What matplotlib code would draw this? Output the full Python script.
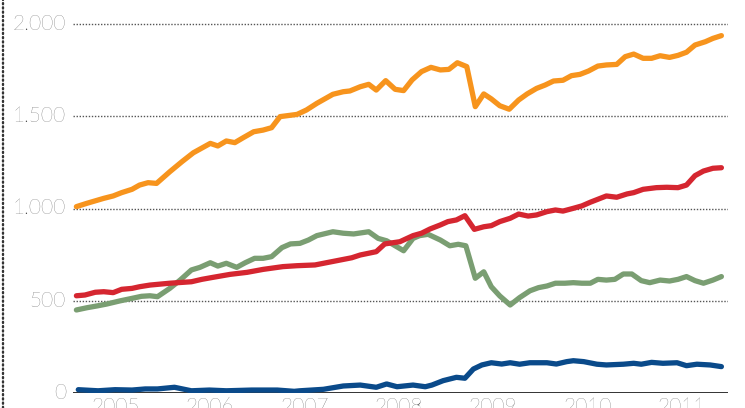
import matplotlib.pyplot as plt
from matplotlib.lines import Line2D

# decimal years / values
orange_t = [2004.58, 2004.69, 2004.87, 2004.97, 2005.06, 2005.17, 2005.25, 2005.34, 2005.43, 2005.57,
            2005.70, 2005.82, 2006.00, 2006.08, 2006.17, 2006.26, 2006.35, 2006.46, 2006.56, 2006.65,
            2006.74, 2006.92, 2007.02, 2007.13, 2007.30, 2007.41, 2007.48, 2007.59, 2007.68, 2007.76,
            2007.86, 2007.96, 2008.05, 2008.14, 2008.24, 2008.34, 2008.44, 2008.53, 2008.62, 2008.72,
            2008.81, 2008.90, 2008.98, 2009.07, 2009.17, 2009.27, 2009.36, 2009.46, 2009.55, 2009.64,
            2009.74, 2009.83, 2009.92, 2010.01, 2010.11, 2010.20, 2010.31, 2010.40, 2010.49, 2010.59,
            2010.68, 2010.77, 2010.87, 2010.96, 2011.05, 2011.14, 2011.25, 2011.33, 2011.42]
orange_v = [1010, 1028, 1055, 1068, 1086, 1104, 1127, 1140, 1136, 1199,
            1254, 1302, 1353, 1339, 1366, 1357, 1384, 1416, 1425, 1438,
            1498, 1510, 1534, 1570, 1619, 1633, 1637, 1660, 1673, 1642,
            1693, 1646, 1639, 1697, 1742, 1765, 1751, 1754, 1790, 1769,
            1552, 1621, 1594, 1557, 1538, 1588, 1621, 1651, 1669, 1691,
            1695, 1720, 1727, 1745, 1772, 1778, 1781, 1823, 1837, 1814,
            1814, 1828, 1819, 1830, 1847, 1886, 1904, 1922, 1937]

red_t = [2004.58, 2004.67, 2004.78, 2004.87, 2004.97, 2005.06, 2005.17, 2005.25, 2005.36, 2005.57,
         2005.80, 2005.91, 2006.03, 2006.21, 2006.39, 2006.56, 2006.77, 2006.92, 2007.11, 2007.20,
         2007.34, 2007.50, 2007.59, 2007.76, 2007.85, 2008.01, 2008.15, 2008.24, 2008.33, 2008.44,
         2008.52, 2008.61, 2008.70, 2008.80, 2008.90, 2008.98, 2009.07, 2009.18, 2009.27, 2009.37,
         2009.46, 2009.57, 2009.66, 2009.74, 2009.85, 2009.94, 2010.03, 2010.11, 2010.20, 2010.31,
         2010.42, 2010.49, 2010.59, 2010.73, 2010.84, 2010.96, 2011.05, 2011.14, 2011.23, 2011.33,
         2011.42]
red_v = [527, 531, 546, 549, 544, 562, 567, 576, 585, 595,
         603, 616, 627, 643, 654, 670, 685, 690, 694, 703,
         717, 733, 748, 766, 808, 820, 853, 866, 889, 911,
         929, 938, 961, 887, 901, 907, 929, 947, 970, 959,
         965, 983, 992, 986, 1001, 1014, 1034, 1050, 1068, 1061,
         1079, 1086, 1104, 1113, 1115, 1113, 1127, 1178, 1203, 1218,
         1221]

green_t = [2004.58, 2004.69, 2004.80, 2004.90, 2005.04, 2005.17, 2005.27, 2005.36, 2005.44, 2005.57,
           2005.68, 2005.80, 2005.89, 2006.00, 2006.08, 2006.17, 2006.28, 2006.37, 2006.47, 2006.56,
           2006.65, 2006.76, 2006.85, 2006.95, 2007.04, 2007.13, 2007.30, 2007.41, 2007.52, 2007.68,
           2007.78, 2007.87, 2008.05, 2008.15, 2008.22, 2008.31, 2008.44, 2008.54, 2008.63, 2008.71,
           2008.81, 2008.90, 2008.98, 2009.07, 2009.18, 2009.28, 2009.39, 2009.48, 2009.57, 2009.66,
           2009.76, 2009.85, 2009.94, 2010.03, 2010.11, 2010.20, 2010.29, 2010.38, 2010.47, 2010.57,
           2010.66, 2010.77, 2010.87, 2010.96, 2011.05, 2011.14, 2011.23, 2011.33, 2011.42]
green_v = [450, 462, 472, 482, 499, 513, 524, 527, 522, 567,
           612, 667, 681, 706, 688, 703, 681, 706, 730, 730,
           739, 788, 808, 811, 829, 853, 874, 866, 862, 874,
           838, 825, 771, 838, 853, 860, 829, 798, 806, 798,
           622, 657, 576, 526, 477, 517, 554, 571, 580, 595,
           595, 598, 595, 595, 616, 612, 616, 645, 645, 609,
           598, 612, 607, 616, 631, 609, 595, 612, 631]

blue_t = [2004.60, 2004.81, 2004.99, 2005.17, 2005.31, 2005.44, 2005.62, 2005.80, 2005.99, 2006.17,
          2006.44, 2006.71, 2006.89, 2006.95, 2007.20, 2007.41, 2007.59, 2007.76, 2007.87, 2007.98,
          2008.15, 2008.28, 2008.35, 2008.47, 2008.61, 2008.70, 2008.79, 2008.88, 2008.98, 2009.09,
          2009.18, 2009.28, 2009.39, 2009.57, 2009.67, 2009.78, 2009.85, 2009.96, 2010.10, 2010.20,
          2010.38, 2010.49, 2010.57, 2010.68, 2010.80, 2010.95, 2011.05, 2011.16, 2011.30, 2011.42]
blue_v = [18, 12, 18, 16, 22, 22, 31, 12, 16, 12,
          16, 16, 9, 12, 20, 38, 43, 31, 49, 34,
          43, 34, 43, 67, 85, 80, 130, 152, 164, 157,
          164, 156, 164, 164, 157, 170, 175, 170, 156, 152,
          156, 161, 156, 166, 161, 164, 148, 156, 152, 143]

y_ticks = [0, 500, 1000, 1500, 2000]
y_tick_labels = ["0", "500", "1.000", "1.500", "2.000"]
years = [2005, 2006, 2007, 2008, 2009, 2010, 2011]

ORANGE = "#f7941d"
RED = "#d52630"
GREEN = "#7a9e72"
BLUE = "#0a4a8a"
TXT = "#3c3c3c"

plt.rcParams["font.family"] = ["Lato", "DejaVu Sans"]

W, H = 745, 408
fig = plt.figure(figsize=(W / 100, H / 100), dpi=100)
fig.patch.set_facecolor("white")

# axes spans pixel x 73..728, y 0..393
ax = fig.add_axes([73 / W, (H - 393) / H, (728 - 73) / W, 393 / H])
ax.set_xlim(2004.544, 2011.49)
ax.set_ylim(0, 393 * 2000 / 369)
ax.axis("off")

for v in y_ticks[1:]:
    ax.axhline(v, color="#555555", lw=1.0, ls=(0, (1, 1.2)), zorder=1)
ax.axhline(0, color="#333333", lw=1.4, zorder=1)

lw = 3.8
ax.plot(green_t, green_v, color=GREEN, lw=lw, solid_capstyle="round", solid_joinstyle="round", zorder=3)
ax.plot(red_t, red_v, color=RED, lw=lw, solid_capstyle="round", solid_joinstyle="round", zorder=4)
ax.plot(orange_t, orange_v, color=ORANGE, lw=lw, solid_capstyle="round", solid_joinstyle="round", zorder=4)
ax.plot(blue_t, blue_v, color=BLUE, lw=lw, solid_capstyle="round", solid_joinstyle="round", zorder=4)

for v, lab in zip(y_ticks, y_tick_labels):
    ax.annotate(lab, xy=(0, v), xycoords=("axes fraction", "data"), xytext=(-7, 0),
                textcoords="offset pixels", ha="right", va="center",
                fontsize=15, color=TXT, fontweight="light", annotation_clip=False)

for yr in years:
    ax.annotate(str(yr), xy=(yr, 0), xycoords="data", xytext=(0, -4),
                textcoords="offset pixels", ha="center", va="top",
                fontsize=15, color=TXT, fontweight="light", annotation_clip=False)

# dotted frame line on the left
fig.add_artist(Line2D([3.5 / W, 3.5 / W], [0, 1], color="#333333", lw=1.7,
                      ls=(0, (0.5, 1.3)), dash_capstyle="round", transform=fig.transFigure))

fig.savefig("out.png", dpi=100, facecolor="white")
